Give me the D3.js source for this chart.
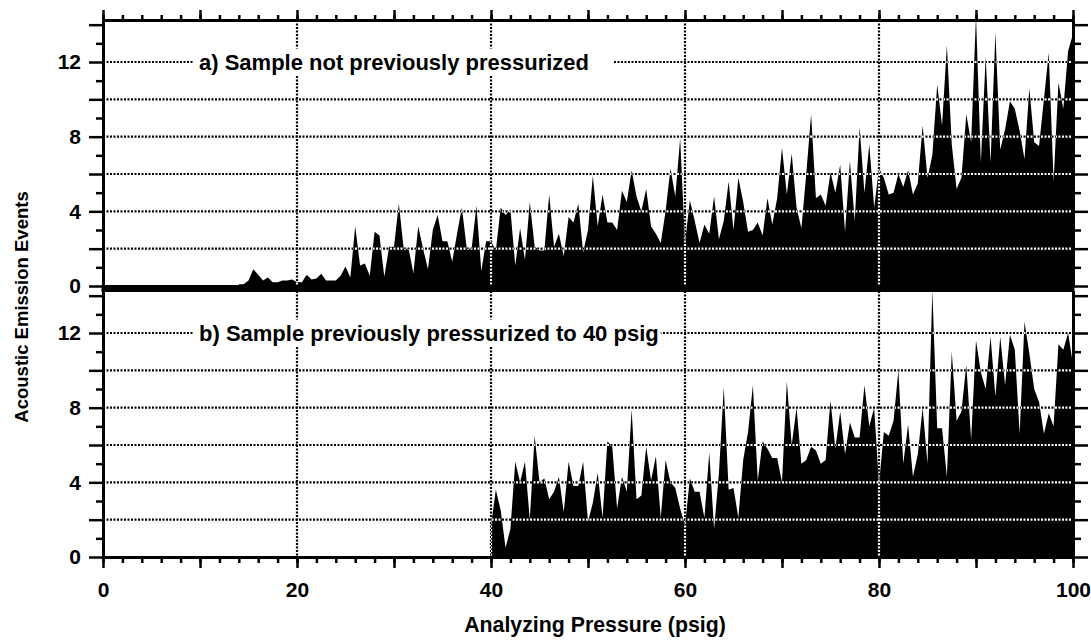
<!DOCTYPE html>
<html>
<head>
<meta charset="utf-8">
<script src="https://cdnjs.cloudflare.com/ajax/libs/d3/7.8.5/d3.min.js"></script>
<style>
  body { margin: 0; background: #fff; }
  svg { display: block; }
  text { font-family: "Liberation Sans", Arial, sans-serif; }
</style>
</head>
<body>
<svg id="chart" width="1091" height="640"></svg>
<script>
// tick labels
const pressureTicks = [0, 20, 40, 60, 80, 100];
const eventTicks = [0, 4, 8, 12];
const gridEvents = [2, 4, 6, 8, 10, 12];
const gridPressure = [20, 40, 60, 80];

// a) sample not previously pressurized, 14 - 100 psig every 0.5 psig
const pressureA = d3.range(14, 100.001, 0.5);
const eventsA = [
  0.1, 0.1, 0.3, 0.9, 0.6, 0.3, 0.45, 0.2, 0.2, 0.3,
  0.3, 0.35, 0.2, 0.2, 0.6, 0.35, 0.4, 0.65, 0.3, 0.3,
  0.3, 0.55, 1.05, 0.45, 3.2, 1.1, 1.2, 0.55, 2.9, 2.7,
  0.5, 2.1, 2.1, 4.4, 2.0, 2.0, 0.7, 3.2, 2.0, 0.9,
  3.0, 3.8, 2.4, 2.4, 1.3, 2.8, 4.2, 2.0, 2.0, 4.3,
  0.8, 2.4,
  2.4, 1.9, 4.2, 3.8, 4.1, 1.1, 3.1, 1.4, 4.5, 2.1,
  1.9, 1.9, 4.9, 2.1, 2.8, 1.6, 3.7, 3.4, 4.4, 1.8,
  3.0, 5.9, 3.2, 4.9, 3.4, 3.4, 3.0, 5.1, 4.5, 6.2,
  4.8, 4.0, 5.2, 3.2, 2.8, 2.3, 4.0, 6.3, 4.8, 7.9,
  2.3, 4.6, 3.5, 2.3, 3.3, 2.8, 4.8, 2.5, 3.5, 5.6,
  3.0, 5.8, 4.5, 2.9, 3.0, 3.4, 2.7, 4.7, 3.3, 4.7,
  7.4, 4.9, 7.1, 4.2, 3.1, 6.0, 9.2, 4.7, 4.9, 4.3,
  6.1, 5.0, 6.5, 2.9, 6.7, 3.5, 8.5, 5.0, 7.6, 4.2,
  6.3, 5.8, 4.9, 5.0, 6.0, 5.3, 6.2, 4.9, 5.5, 8.6,
  5.8, 7.0, 10.8, 8.6, 12.9, 7.6, 5.2, 5.8, 9.2, 7.7,
  14.5, 6.6, 12.3, 6.6, 13.6, 7.3, 8.4, 9.9, 9.5, 8.3,
  6.8, 10.6, 7.7, 7.5, 10.0, 12.5, 5.6, 10.9, 9.5, 12.6,
  13.5
];

// b) sample previously pressurized to 40 psig, 40 - 100 psig every 0.5 psig
const pressureB = d3.range(40, 100.001, 0.5);
const eventsB = [
  1.7, 3.6, 2.5, 0.5, 1.5, 5.1, 4.0, 5.1, 2.0, 6.5,
  4.0, 4.2, 3.1, 3.5, 4.3, 2.4, 5.1, 3.8, 3.8, 5.1,
  1.9, 2.9, 4.5, 2.1, 6.2, 5.9, 2.6, 4.3, 3.5, 7.9,
  3.1, 3.3, 5.9, 4.1, 5.4, 2.1, 5.2, 4.0, 3.7, 2.6,
  1.7, 4.2, 3.5, 3.5, 2.1, 5.6, 1.5, 4.5, 9.1, 3.6,
  3.7, 2.1, 5.2, 6.7, 9.2, 4.1, 6.2, 5.8, 5.3, 5.3,
  4.0, 9.4, 6.0, 8.0, 5.0, 5.2, 5.9, 5.7, 5.0, 5.2,
  8.4, 5.8, 7.8, 5.5, 7.2, 6.4, 6.4, 9.2, 7.0, 8.0,
  3.9, 6.7, 6.5, 7.3, 10.0, 5.0, 7.1, 4.3, 5.5, 8.0,
  5.0, 14.3, 6.9, 6.9, 4.3, 11.0, 7.3, 7.8, 10.3, 6.3,
  11.6, 9.9, 9.0, 11.8, 8.6, 11.8, 9.2, 11.9, 11.1, 6.6,
  12.6, 10.9, 9.0, 8.3, 6.6, 7.7, 7.0, 11.4, 11.1, 12.0,
  10.3
];

const labelA = "a) Sample not previously pressurized";
const labelB = "b) Sample previously pressurized to 40 psig";

const plotLeft = 103, plotRight = 1073;
const fontSize = 21;

const svg = d3.select('#chart');
const defs = svg.append('defs');

const x = d3.scaleLinear().domain([0, 100]).range([plotLeft, plotRight]);

const panels = [
  {name: 'a', pressure: pressureA, events: eventsA, label: labelA, padRight: 24,
   y: d3.scaleLinear().domain([0, 14.25]).range([286, 20])},
  {name: 'b', pressure: pressureB, events: eventsB, label: labelB, padRight: 2,
   y: d3.scaleLinear().domain([0, 14.25]).range([557, 291])}
];

function drawGrid(g, y, color) {
  const [yBottom, yTop] = y.range();
  g.selectAll('.hgrid')
    .data(gridEvents)
    .join('line')
      .classed('hgrid', true)
      .attr('x1', plotLeft)
      .attr('x2', plotRight)
      .attr('y1', d => y(d))
      .attr('y2', d => y(d));
  g.selectAll('.vgrid')
    .data(gridPressure)
    .join('line')
      .classed('vgrid', true)
      .attr('x1', d => x(d))
      .attr('x2', d => x(d))
      .attr('y1', yTop)
      .attr('y2', yBottom);
  g.selectAll('line')
    .style('stroke', color)
    .style('stroke-width', 2.2)
    .style('stroke-dasharray', '2,1.5');
}

panels.forEach((p, i) => {
  const y = p.y;
  const [yBottom, yTop] = y.range();
  const data = p.pressure.map((d, j) => ({x: d, y: p.events[j]}));

  defs.append('clipPath')
    .attr('id', `clip-frame-${p.name}`)
    .append('rect')
      .attr('x', plotLeft)
      .attr('y', yTop)
      .attr('width', plotRight - plotLeft)
      .attr('height', yBottom - yTop);

  const area = d3.area()
    .x(d => x(d.x))
    .y0(yBottom)
    .y1(d => y(d.y));

  defs.append('clipPath')
    .attr('id', `clip-area-${p.name}`)
    .append('path')
      .attr('d', area(data));

  const g = svg.append('g').classed(`panel-${p.name}`, true);

  g.append('path')
    .datum(data)
    .attr('d', area)
    .attr('clip-path', `url(#clip-frame-${p.name})`)
    .style('fill', 'black');

  // dotted grid: black on paper, white where it crosses the filled events
  drawGrid(g.append('g'), y, 'black');
  drawGrid(g.append('g').attr('clip-path', `url(#clip-area-${p.name})`), y, 'white');

  // panel label over the 12 gridline
  const labelBox = g.append('rect').style('fill', 'white');
  const labelText = g.append('text')
    .attr('x', 199)
    .attr('y', y(12) + 7.5)
    .style('font-size', '22px')
    .style('font-weight', 'bold')
    .style('fill', 'black')
    .text(p.label);
  const bb = labelText.node().getBBox();
  labelBox
    .attr('x', bb.x - 5)
    .attr('y', bb.y - 1)
    .attr('width', bb.width + 5 + p.padRight)
    .attr('height', bb.height + 2);

  // left axis
  g.append('g')
    .attr('transform', `translate(${plotLeft},0)`)
    .call(d3.axisLeft(y).tickValues(d3.range(1, 15, 2)).tickSize(7).tickSizeOuter(0).tickFormat(''));
  g.append('g')
    .attr('transform', `translate(${plotLeft},0)`)
    .call(d3.axisLeft(y).tickValues(d3.range(0, 15, 2)).tickSize(14).tickSizeOuter(0).tickPadding(8)
      .tickFormat(d => eventTicks.includes(d) ? d : ''));

  // right axis
  g.append('g')
    .attr('transform', `translate(${plotRight},0)`)
    .call(d3.axisRight(y).tickValues(d3.range(1, 15, 2)).tickSize(8).tickSizeOuter(0).tickFormat(''));
  g.append('g')
    .attr('transform', `translate(${plotRight},0)`)
    .call(d3.axisRight(y).tickValues(d3.range(0, 15, 2)).tickSize(15).tickSizeOuter(0).tickFormat(''));

  if (i === 0) {
    g.append('g')
      .attr('transform', `translate(0,${yTop})`)
      .call(d3.axisTop(x).tickValues(d3.range(0, 101, 2)).tickSize(5).tickSizeOuter(0).tickFormat(''));
    g.append('g')
      .attr('transform', `translate(0,${yTop})`)
      .call(d3.axisTop(x).tickValues(d3.range(0, 101, 10)).tickSize(10).tickSizeOuter(0).tickFormat(''));
  } else {
    g.append('g')
      .attr('transform', `translate(0,${yBottom})`)
      .call(d3.axisBottom(x).tickValues(d3.range(0, 101, 2)).tickSize(6).tickSizeOuter(0).tickFormat(''));
    g.append('g')
      .attr('transform', `translate(0,${yBottom})`)
      .call(d3.axisBottom(x).tickValues(d3.range(0, 101, 10)).tickSize(11).tickSizeOuter(0).tickPadding(14)
        .tickFormat(d => pressureTicks.includes(d) ? d : ''));
  }
});

// thick band where the two panels meet
svg.append('rect')
  .attr('x', plotLeft - 1.5)
  .attr('y', 285)
  .attr('width', plotRight - plotLeft + 3)
  .attr('height', 7)
  .style('fill', 'black');

svg.selectAll('.domain')
  .style('stroke', 'black')
  .style('stroke-width', 3);
svg.selectAll('.tick line')
  .style('stroke', 'black')
  .style('stroke-width', 2.5);
svg.selectAll('.tick text')
  .attr('font-family', null)
  .style('font-size', `${fontSize}px`)
  .style('font-weight', 'bold')
  .style('fill', 'black');

// axis titles
svg.append('text')
  .attr('x', 595)
  .attr('y', 632)
  .attr('text-anchor', 'middle')
  .style('font-size', '21.3px')
  .style('font-weight', 'bold')
  .text('Analyzing Pressure (psig)');

svg.append('text')
  .attr('transform', 'translate(28,307) rotate(-90)')
  .attr('text-anchor', 'middle')
  .style('font-size', '18.5px')
  .style('font-weight', 'bold')
  .text('Acoustic Emission Events');
</script>
</body>
</html>
